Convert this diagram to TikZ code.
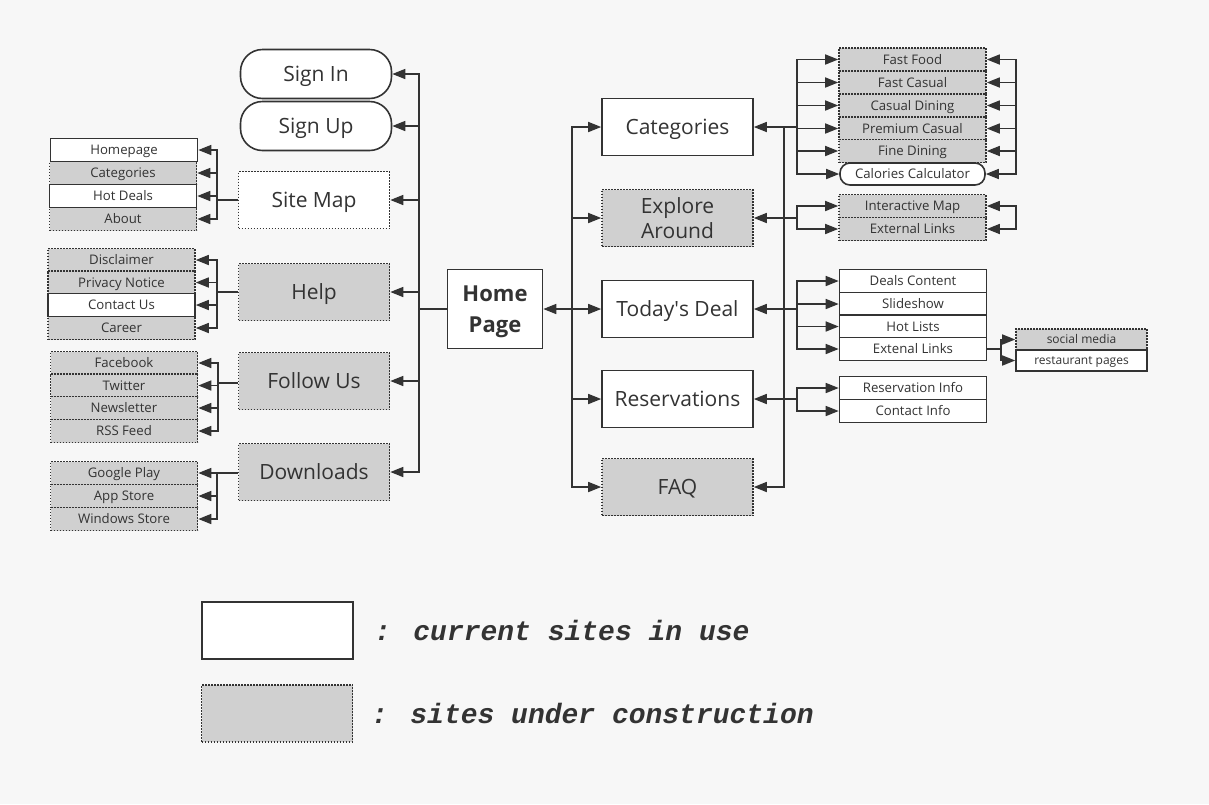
\documentclass[tikz,border=0pt]{standalone}
\usepackage{fontspec}
\setmainfont{Open Sans}
\newfontfamily\legendfont{Liberation Mono}
\usetikzlibrary{arrows.meta}
\definecolor{ink}{HTML}{333333}
\definecolor{wip}{HTML}{D0D0D0}
\definecolor{paper}{HTML}{F7F7F7}
\tikzset{
  page/.style={draw=ink, line width=1.6pt, fill=white, text=ink, inner sep=0pt,
    minimum width=151pt, minimum height=57pt, align=center,
    text height=15pt, text depth=0pt,
    font=\fontsize{21}{25}\selectfont},
  sitepage/.style={page, dash pattern=on 1.6pt off 1.4pt},
  wippage/.style={sitepage, fill=wip},
  twolines/.style={text height={}, text depth={}},
  signbox/.style={page, minimum height=49pt, rounded corners=22pt},
  homebox/.style={page, twolines, minimum width=95pt, minimum height=79pt,
    font=\fontsize{22}{31}\selectfont\bfseries},
  sub/.style={draw=ink, line width=1.6pt, fill=white, text=ink, inner sep=0pt,
    minimum width=147pt, minimum height=23pt, text height=9.4pt, text depth=0pt,
    font=\fontsize{13.2}{15}\selectfont},
  wipsub/.style={sub, fill=wip, dash pattern=on 1.6pt off 1.4pt},
  calcbox/.style={sub, minimum width=145pt, minimum height=22pt, rounded corners=10pt},
  tiny/.style={minimum width=131pt, minimum height=21pt, text height=8.6pt,
    font=\fontsize{12}{13}\selectfont},
  arr/.style={draw=ink, line width=1.6pt, -{Triangle[length=13pt,width=10pt]}},
  link/.style={draw=ink, line width=1.6pt},
  legendtext/.style={anchor=west, inner sep=0pt, text=ink,
    font=\legendfont\bfseries\itshape\fontsize{28}{30}\selectfont}
}
\begin{document}
\begin{tikzpicture}[x=1pt,y=-1pt]
  \fill[paper] (0,0) rectangle (1209,804);
  \useasboundingbox (0,0) rectangle (1209,804);

  \node[homebox] (home) at (495,309) {Home\\\smash{Page}};

  \node[signbox] (signin) at (316,74) {Sign In};
  \node[signbox] (signup) at (316,126) {Sign Up};
  \node[sitepage] (sitemap) at (314,200) {Site Map};
  \node[wippage] (help) at (314,292) {Help};
  \node[wippage] (follow) at (314,381) {Follow Us};
  \node[wippage] (downloads) at (314,472) {Downloads};

  \node[page] (categories) at (677.5,127) {Categories};
  \node[wippage,twolines] (explore) at (677.5,218) {Explore\\\smash{Around}};
  \node[page] (deal) at (677.5,309) {Today\textquotesingle s Deal};
  \node[page] (reserv) at (677.5,399) {Reservations};
  \node[wippage] (faq) at (677.5,487) {FAQ};

  \node[sub] (homepage) at (124,150) {Homepage};
  \node[wipsub] (sitecat) at (123,173) {Categories};
  \node[sub] (hotdeals) at (123,196) {Hot Deals};
  \node[wipsub] (about) at (123,219) {About};

  \node[wipsub] (disclaimer) at (121.5,260) {Disclaimer};
  \node[wipsub] (privacy) at (121.5,282.5) {Privacy Notice};
  \node[sub] (contactus) at (121.5,305) {Contact Us};
  \node[wipsub] (career) at (121.5,328) {Career};

  \node[wipsub] (facebook) at (124,363) {Facebook};
  \node[wipsub] (twitter) at (124,385.5) {Twitter};
  \node[wipsub] (newsletter) at (124,408) {Newsletter};
  \node[wipsub] (rss) at (124,431) {RSS Feed};

  \node[wipsub] (googleplay) at (124,473) {Google Play};
  \node[wipsub] (appstore) at (124,496) {App Store};
  \node[wipsub] (winstore) at (124,519) {Windows Store};

  \node[wipsub] (fastfood) at (912.5,59.5) {Fast Food};
  \node[wipsub] (fastcasual) at (912.5,82.5) {Fast Casual};
  \node[wipsub] (casualdining) at (912.5,105.5) {Casual Dining};
  \node[wipsub] (premium) at (912.5,128.5) {Premium Casual};
  \node[wipsub] (finedining) at (912.5,151) {Fine Dining};
  \node[calcbox] (calories) at (912.5,174) {Calories Calculator};

  \node[wipsub] (imap) at (912.5,206) {Interactive Map};
  \node[wipsub] (extlinks) at (912.5,229) {External Links};

  \node[sub] (dealcontent) at (913,281) {Deals Content};
  \node[sub] (slideshow) at (913,304) {Slideshow};
  \node[sub] (hotlists) at (913,326.5) {Hot Lists};
  \node[sub] (extenal) at (913,349) {Extenal Links};

  \node[wipsub,tiny] (social) at (1081.5,339.5) {social media};
  \node[sub,tiny] (restaurant) at (1081.5,360.5) {restaurant pages};

  \node[sub] (resinfo) at (913,388) {Reservation Info};
  \node[sub] (continfo) at (913,411) {Contact Info};

  \coordinate (lt) at (419,309);
  \coordinate (rt) at (572,309);
  \coordinate (rt2) at (784,127);
  \coordinate (smbus) at (217,200);
  \coordinate (helpbus) at (217,292);
  \coordinate (followbus) at (218,383);
  \coordinate (dlbus) at (217,473);
  \coordinate (catbus) at (797,127);
  \coordinate (catright) at (1016,116);
  \coordinate (expbus) at (797,218);
  \coordinate (expright) at (1016,218);
  \coordinate (dealbus) at (797,309);
  \coordinate (resbus) at (797,399);
  \coordinate (extbus) at (1001,349);

  \begin{scope}[arr]
    \draw[link,-] (home.west) -- (lt);
    \draw (lt) |- (signin.east);
    \draw (lt) |- (signup.east);
    \draw (lt) |- (sitemap.east);
    \draw (lt) |- (help.east);
    \draw (lt) |- (follow.east);
    \draw (lt) |- (downloads.east);

    \draw (rt) -- (home.east);
    \draw (rt) |- (categories.west);
    \draw (rt) |- (explore.west);
    \draw (rt) -- (deal.west);
    \draw (rt) |- (reserv.west);
    \draw (rt) |- (faq.west);

    \draw (rt2) |- (faq.east);
    \draw (catbus) -- (categories.east);
    \draw (expbus) -- (explore.east);
    \draw (dealbus) -- (deal.east);
    \draw (resbus) -- (reserv.east);

    \draw[link,-] (sitemap.west) -- (smbus);
    \draw (smbus) |- (homepage.east);
    \draw (smbus) |- (sitecat.east);
    \draw (smbus) |- (hotdeals.east);
    \draw (smbus) |- (about.east);

    \draw[link,-] (help.west) -- (helpbus);
    \draw (helpbus) |- (disclaimer.east);
    \draw (helpbus) |- (privacy.east);
    \draw (helpbus) |- (contactus.east);
    \draw (helpbus) |- (career.east);

    \draw[link,-] (follow.west |- followbus) -- (followbus);
    \draw (followbus) |- (facebook.east);
    \draw (followbus) |- (twitter.east);
    \draw (followbus) |- (newsletter.east);
    \draw (followbus) |- (rss.east);

    \draw[link,-] (downloads.west |- dlbus) -- (dlbus);
    \draw (dlbus) |- (googleplay.east);
    \draw (dlbus) |- (appstore.east);
    \draw (dlbus) |- (winstore.east);

    \draw (catbus) |- (fastfood.west);
    \draw (catbus) |- (fastcasual.west);
    \draw (catbus) |- (casualdining.west);
    \draw (catbus) |- (premium.west);
    \draw (catbus) |- (finedining.west);
    \draw (catbus) |- (calories.west);
    \draw (catright) |- (fastfood.east);
    \draw (catright) |- (fastcasual.east);
    \draw (catright) |- (casualdining.east);
    \draw (catright) |- (premium.east);
    \draw (catright) |- (finedining.east);
    \draw (catright) |- (calories.east);

    \draw (expbus) |- (imap.west);
    \draw (expbus) |- (extlinks.west);
    \draw (expright) |- (imap.east);
    \draw (expright) |- (extlinks.east);

    \draw (dealbus) |- (dealcontent.west);
    \draw (dealbus) |- (slideshow.west);
    \draw (dealbus) |- (hotlists.west);
    \draw (dealbus) |- (extenal.west);

    \draw[link,-] (extenal.east) -- (extbus);
    \draw (extbus) |- (social.west);
    \draw (extbus) |- (restaurant.west);

    \draw (resbus) |- (resinfo.west);
    \draw (resbus) |- (continfo.west);
  \end{scope}

  \node[page] (legendnow) at (277.5,630.5) {};
  \node[wippage] (legendwip) at (277,713.5) {};
  \node[legendtext] (nowtext) at (374,630) {: current sites in use};
  \node[legendtext] (wiptext) at (371,713) {: sites under construction};
\end{tikzpicture}
\end{document}
